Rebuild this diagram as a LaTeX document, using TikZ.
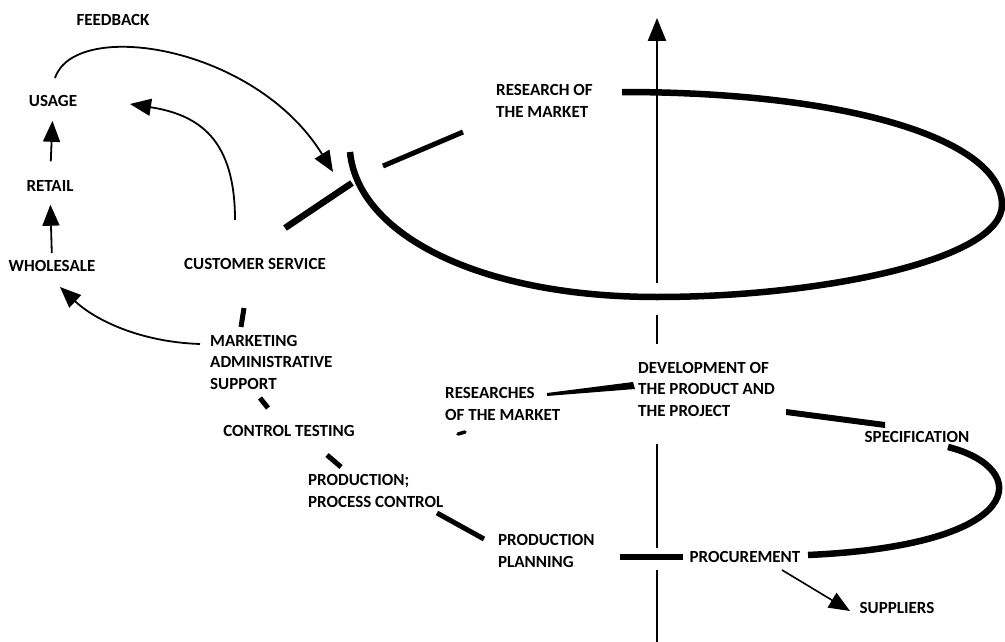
\documentclass[tikz,border=0pt]{standalone}
\usepackage{fontspec}
\setmainfont{Carlito}
\usetikzlibrary{arrows.meta}
\begin{document}
\begin{tikzpicture}[x=1pt,y=-1pt,
  lbl/.style={font=\fontsize{17}{21.5}\selectfont\bfseries, inner sep=0pt, align=left},
  bold stroke/.style={line width=6.5pt},
  mid stroke/.style={line width=5pt},
  arr/.style={line width=1.8pt, -{Triangle[length=21pt,width=17pt]}},
  axis/.style={line width=2.4pt},
]
\useasboundingbox (0,0) rectangle (1005,642);

% labels
\node[lbl] (feedback) at (113,20) {FEEDBACK};
\node[lbl] (usage) at (53,101) {USAGE};
\node[lbl] (retail) at (50,186) {RETAIL};
\node[lbl] (wholesale) at (52,266) {WHOLESALE};
\node[lbl] (cs) at (255,264) {CUSTOMER SERVICE};
\node[lbl, anchor=west] (mkt) at (210,362) {MARKETING\\ADMINISTRATIVE\\SUPPORT};
\node[lbl] (ct) at (289,431) {CONTROL TESTING};
\node[lbl, anchor=west] (prod) at (308,491) {PRODUCTION;\\PROCESS CONTROL};
\node[lbl, anchor=west] (plan) at (498,551) {PRODUCTION\\PLANNING};
\node[lbl] (proc) at (745,557) {PROCUREMENT};
\node[lbl] (sup) at (897,608) {SUPPLIERS};
\node[lbl] (spec) at (917,437) {SPECIFICATION};
\node[lbl, anchor=west] (dev) at (638,389) {DEVELOPMENT OF\\THE PRODUCT AND\\THE PROJECT};
\node[lbl, anchor=west] (res2) at (445,404) {RESEARCHES\\OF THE MARKET};
\node[lbl, anchor=west] (res1) at (496,101) {RESEARCH OF\\THE MARKET};

% named points
\coordinate (axtop) at (657,18);
\coordinate (axa) at (657,283);
\coordinate (axb) at (657,315);
\coordinate (axc) at (657,344);
\coordinate (axd) at (657,444);
\coordinate (axe) at (657,548);
\coordinate (axf) at (657,570);
\coordinate (axg) at (657,642);
\coordinate (ringL) at (350,152);
\coordinate (ringT) at (622,92);
\coordinate (ringR) at (1002,205);
\coordinate (ringB) at (657,297);
\coordinate (junct) at (352,183);
\coordinate (csA) at (285,228);
\coordinate (rmA) at (383,166);
\coordinate (rmB) at (463,132);
\coordinate (fbS) at (55,78);
\coordinate (fbE) at (333,172);
\coordinate (csS) at (235,220);
\coordinate (csE) at (130,104);
\coordinate (mkS) at (200,344);
\coordinate (mkE) at (60,287);
\coordinate (suS) at (782,570);
\coordinate (suE) at (850,611);
\coordinate (specS) at (948,447);
\coordinate (procR) at (808,555);
\coordinate (procL) at (620,557);
\coordinate (procM) at (683,557);
\coordinate (tickA) at (458,434);
\coordinate (tickB) at (465,432);

% vertical axis
\draw[axis, -{Triangle[length=23pt,width=18pt]}] (axa) -- (axtop);
\draw[axis] (axb) -- (axc);
\draw[axis] (axd) -- (axe);
\draw[axis] (axf) -- (axg);

% big loop
\draw[bold stroke] (ringT) .. controls (850,92) and (1002,140) .. (ringR)
  .. controls (1002,260) and (820,297) .. (ringB)
  .. controls (480,297) and (358,235) .. (ringL);
\draw[bold stroke] (csA) -- (junct);
\draw[mid stroke] (rmA) -- (rmB);

% lower loop
\draw[bold stroke] (specS) .. controls (1032,468) and (1030,545) .. (procR);
\draw[bold stroke] (procL) -- (procM);
\fill (786,409) -- (885,422) -- (885,428) -- (786,415) -- cycle;
\fill (547,393) -- (633,382) -- (635,389) -- (547,396) -- cycle;
\draw[line width=3.5pt, line cap=round] (tickA) -- (tickB);

% short strokes between stages
\draw[mid stroke] (244,308) -- (241,327);
\draw[mid stroke] (260,398) -- (268,408);
\draw[mid stroke] (327,455) -- (341,467);
\draw[mid stroke] (437,513) -- (484,539);

% arrows
\draw[arr, shorten <=7pt, shorten >=13pt] (wholesale.north) -- (retail.south);
\draw[arr, shorten <=19pt, shorten >=14pt] (retail.north) -- (usage.south);
\draw[arr] (fbS) .. controls (75,18) and (255,45) .. (fbE);
\draw[arr] (csS) .. controls (235,140) and (200,115) .. (csE);
\draw[arr] (mkS) .. controls (140,342) and (95,320) .. (mkE);
\draw[arr, line width=1.6pt] (suS) -- (suE);
\end{tikzpicture}
\end{document}
